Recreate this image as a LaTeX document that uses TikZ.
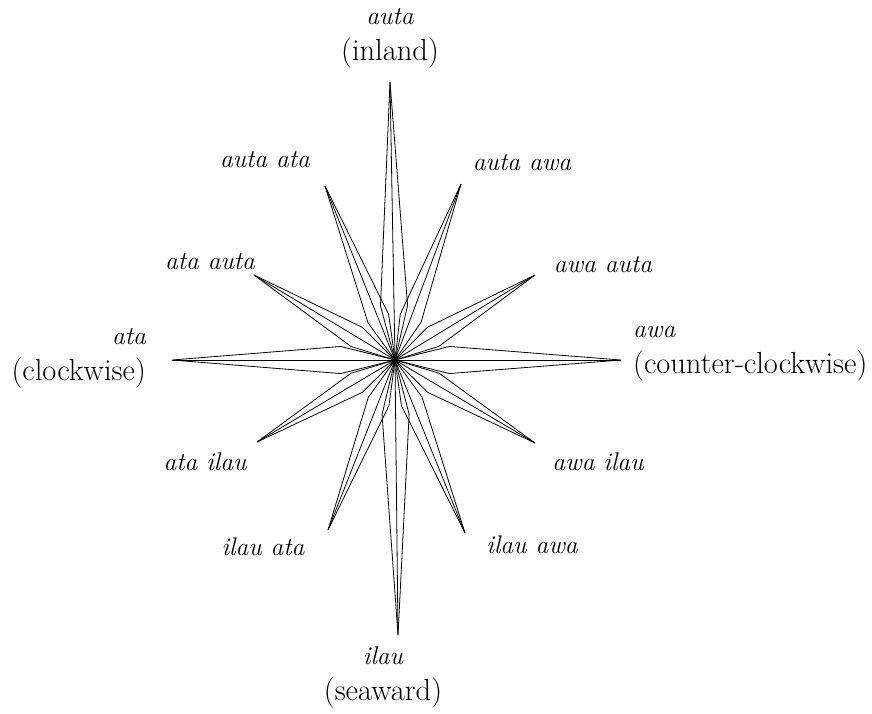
\documentclass[tikz,border=0pt]{standalone}
\usetikzlibrary{calc}
\newcommand{\uprm}{\fontsize{30.5}{36}\selectfont\upshape}
\begin{document}
\begin{tikzpicture}[x=1pt,y=-1pt,
  ray/.style={line width=0.8pt, line join=miter},
  lab/.style={font=\fontsize{25.5}{36}\selectfont\itshape, inner sep=0pt},
]
\useasboundingbox (0,0) rectangle (872,713);
\coordinate (C) at (395,360);
\foreach \n/\x/\y/\d in {N/390/82/56pt, S/398/635/56pt, W/172/360/56pt, E/621/360/56pt,
  NNW/325/186/46pt, NNE/461/184/46pt, WNW/254/275/46pt, ENE/535/275/46pt,
  WSW/257/442/46pt, ESE/535/443/46pt, SSW/328/530/46pt, SSE/465/533/46pt}
{
  \coordinate (\n) at (\x,\y);
  \draw[ray] (C) -- ($(C)!\d!14:(\n)$) -- (\n) -- ($(C)!\d!-14:(\n)$) -- cycle;
  \draw[ray] (C) -- (\n);
}
\node[lab, align=center] (lN) at (390,38) {auta\\\uprm(inland)};
\node[lab, align=center] (lS) at (383,677) {ilau\\\uprm(seaward)};
\node[lab, align=right, anchor=east] (lW) at (146,358) {ata\\\uprm(clockwise)};
\node[lab, align=left, anchor=west] (lE) at (633,354) {awa\\\uprm(counter-clockwise)};
\node[lab] (lNNW) at (265,160) {auta ata};
\node[lab] (lNNE) at (522,163) {auta awa};
\node[lab] (lWNW) at (210,262) {ata auta};
\node[lab] (lENE) at (603,265) {awa auta};
\node[lab] (lWSW) at (205,462) {ata ilau};
\node[lab] (lESE) at (598,462) {awa ilau};
\node[lab] (lSSW) at (263,547) {ilau ata};
\node[lab] (lSSE) at (532,545) {ilau awa};
\end{tikzpicture}
\end{document}
